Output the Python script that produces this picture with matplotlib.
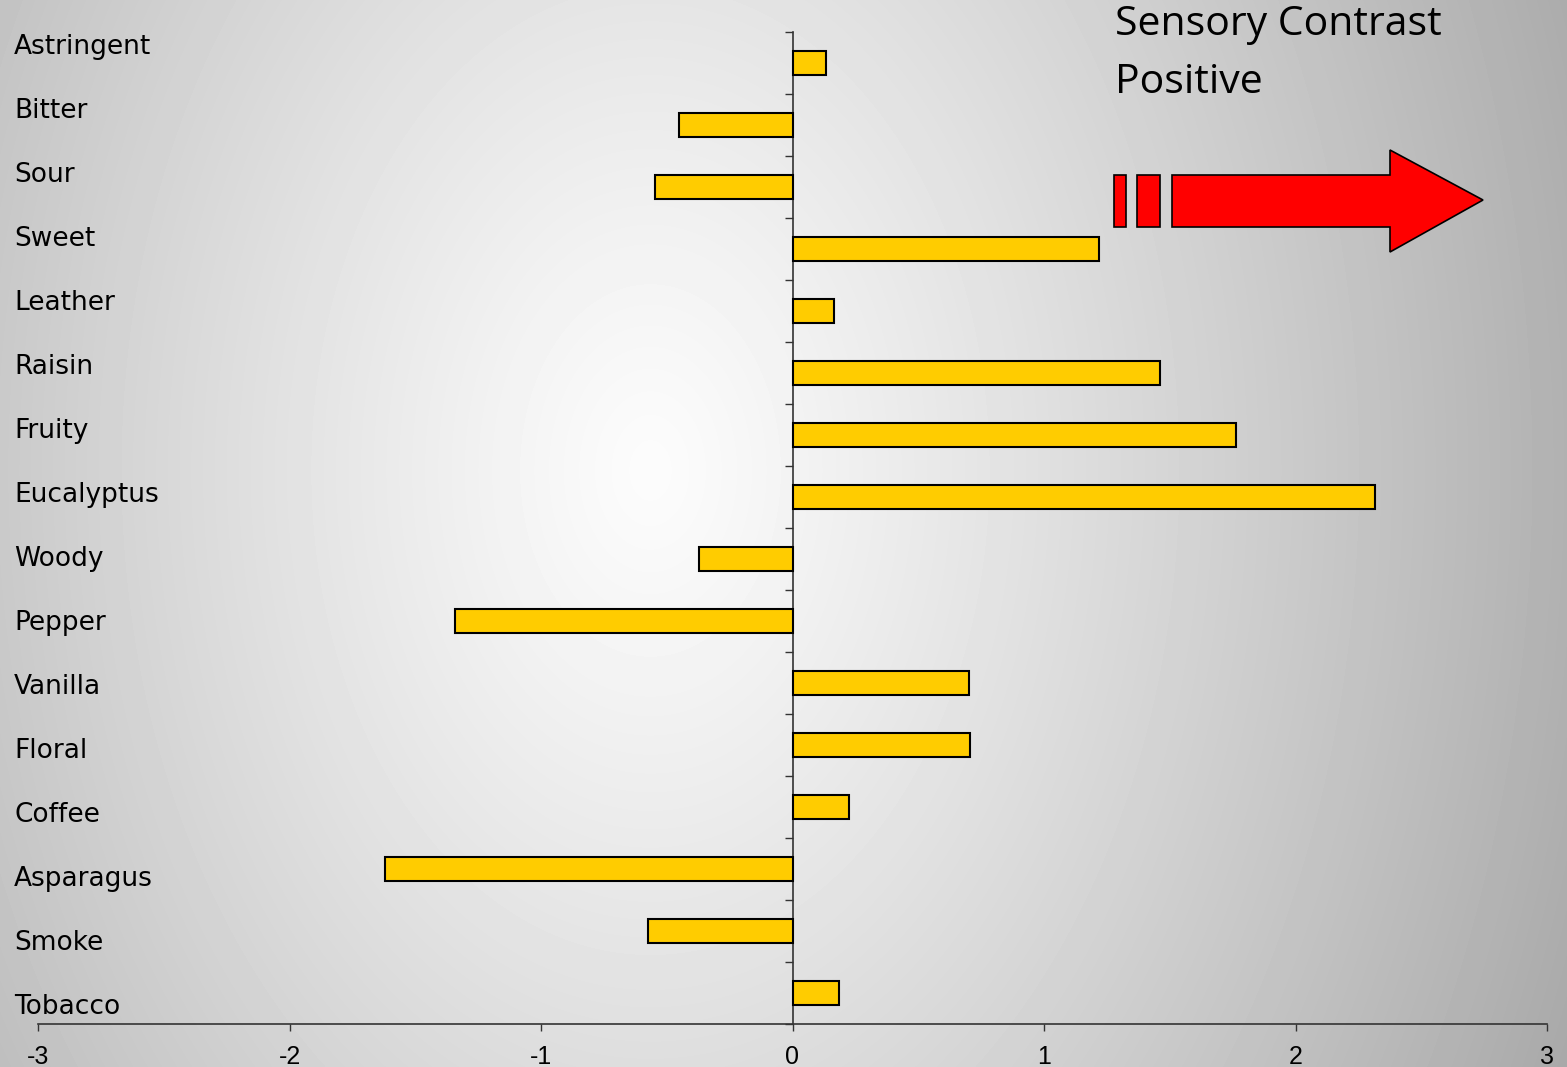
import matplotlib.pyplot as plt
import numpy as np
from matplotlib.patches import Polygon, Rectangle

attributes = ['Astringent', 'Bitter', 'Sour', 'Sweet', 'Leather', 'Raisin',
              'Fruity', 'Eucalyptus', 'Woody', 'Pepper', 'Vanilla', 'Floral',
              'Coffee', 'Asparagus', 'Smoke', 'Tobacco']
contrast = [0.135, -0.45, -0.545, 1.22, 0.165, 1.46, 1.765, 2.315, -0.37,
            -1.34, 0.70, 0.705, 0.225, -1.62, -0.575, 0.185]
x_ticks = [-3, -2, -1, 0, 1, 2, 3]
x_ticklabels = ['-3', '-2', '-1', '0', '1', '2', '3']

W, H = 1567, 1067
fig = plt.figure(figsize=(W / 100, H / 100), dpi=100)

# radial grey background, lightest just left of centre
bg = fig.add_axes([0, 0, 1, 1], zorder=-10)
yy, xx = np.mgrid[0:H, 0:W]
d = np.sqrt((xx - 650) ** 2 + ((yy - 470) * 0.7) ** 2)
shade = np.clip(252 - 0.0294 * d ** 1.15, 140, 255) / 255.0
bg.imshow(shade, cmap='gray', vmin=0, vmax=1, aspect='auto',
          extent=[0, W, H, 0], interpolation='bilinear')
bg.set_xlim(0, W)
bg.set_ylim(H, 0)
bg.axis('off')

ax = fig.add_axes([38 / W, 43 / H, (1547 - 38) / W, (1024 - 32) / H])
ax.patch.set_alpha(0)
ypos = np.arange(len(attributes))
ax.barh(ypos, contrast, height=0.4, color='#FFCC00', edgecolor='black',
        linewidth=1.5, zorder=3)
ax.set_xlim(-3, 3)
ax.set_ylim(len(attributes) - 0.5, -0.5)

ax.spines['top'].set_visible(False)
ax.spines['right'].set_visible(False)
ax.spines['left'].set_position(('data', 0))
for s in ('left', 'bottom'):
    ax.spines[s].set_color('#333333')
    ax.spines[s].set_linewidth(1.2)

ax.tick_params(axis='x', direction='out', length=5, width=1, color='#333333',
               pad=10)
ax.set_xticks(x_ticks)
ax.set_xticklabels(x_ticklabels, fontsize=18, family='Liberation Sans')
ax.set_yticks(np.arange(len(attributes) + 1) - 0.5)
ax.set_yticklabels([])
ax.tick_params(axis='y', direction='out', length=6, width=1, color='#333333')

# category names sit down the left edge of the figure
for i, name in enumerate(attributes):
    fig.text(14 / W, 1 - (47 + 64 * i) / H, name, ha='left', va='center',
             family='DejaVu Sans', fontsize=19)

fig.text(1115 / W, 1 - 25 / H, 'Sensory Contrast', ha='left', va='center',
         family='Open Sans', fontsize=29.5)
fig.text(1115 / W, 1 - 83 / H, 'Positive', ha='left', va='center',
         family='Open Sans', fontsize=29.5)

# red arrow pointing toward positive contrast
ov = fig.add_axes([0, 0, 1, 1], zorder=5)
ov.set_xlim(0, W)
ov.set_ylim(H, 0)
ov.axis('off')
for x0, x1 in [(1114, 1126), (1137, 1160)]:
    ov.add_patch(Rectangle((x0, 175), x1 - x0, 52, facecolor='red',
                           edgecolor='black', linewidth=1.2))
ov.add_patch(Polygon([(1172, 175), (1390, 175), (1390, 150), (1483, 200),
                      (1390, 252), (1390, 227), (1172, 227)], closed=True,
                     facecolor='red', edgecolor='black', linewidth=1.2))

fig.savefig('out.png', dpi=100)
